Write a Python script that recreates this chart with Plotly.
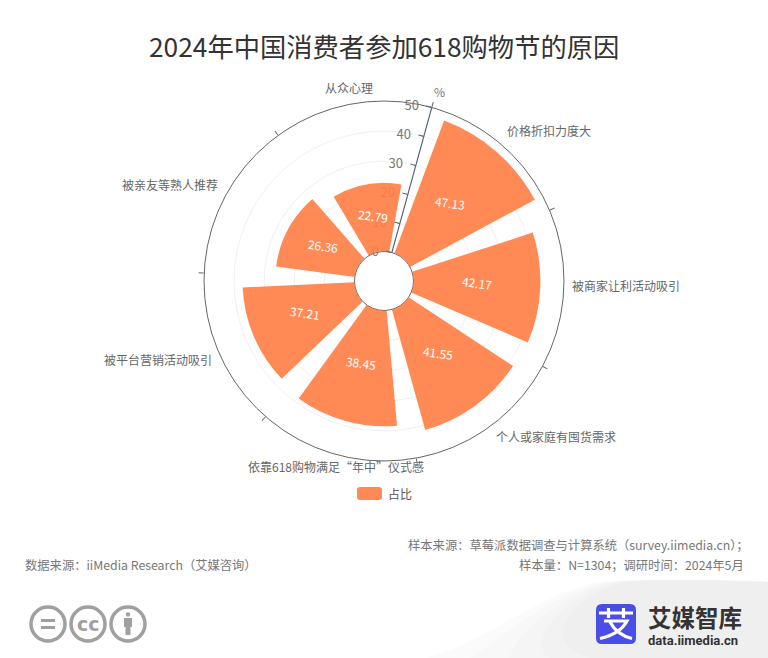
import math
import plotly.graph_objects as go

W, H = 768, 658
categories = ["价格折扣力度大", "被商家让利活动吸引", "个人或家庭有囤货需求",
              "依靠618购物满足“年中”仪式感", "被平台营销活动吸引", "被亲友等熟人推荐", "从众心理"]
values = [47.13, 42.17, 41.55, 38.45, 37.21, 26.36, 22.79]
radial_ticks = [0, 10, 20, 30, 40, 50]
series_name = "占比"
title = "2024年中国消费者参加618购物节的原因"

FONT = "Noto Sans CJK SC"
ORANGE = "#FF7D42"
CX, CY, R, HOLE = 384, 281, 180, 29.5
AXIS_DEG = 15.4          # clockwise from north
STEP = 360 / len(categories)
# page positions of the category labels (plotly's own anchoring differs from the reference)
LABEL_XY = [(549, 130), (625.5, 285.5), (556, 436), (335.5, 466), (157.5, 359.5), (169.5, 184.5), (348.5, 87.5)]


def px(x):
    return x / W


def py(y):
    return 1 - y / H


def text(x, y, s, size=12.0, color="#777777", anchor="left", angle=0, family=FONT):
    return dict(x=px(x), y=py(y), xref="paper", yref="paper", text=s, showarrow=False,
                xanchor=anchor, yanchor="middle", textangle=angle,
                font=dict(family=family, size=size, color=color))


def pshape(path, fill=None, line=None, lw=0, opacity=1, layer="above"):
    return dict(type="path", xref="paper", yref="paper", path=path, fillcolor=fill,
                line=dict(color=line, width=lw), opacity=opacity, layer=layer)


def P(points):
    """Build a paper-coordinate path from pixel commands."""
    out = []
    for item in points:
        if isinstance(item, str):
            out.append(item)
        else:
            out.append(f"{px(item[0]):.5f},{py(item[1]):.5f}")
    return " ".join(out)


def round_rect(x0, y0, x1, y1, r):
    return P(["M", (x0 + r, y0), "L", (x1 - r, y0), "Q", (x1, y0), (x1, y0 + r),
              "L", (x1, y1 - r), "Q", (x1, y1), (x1 - r, y1), "L", (x0 + r, y1),
              "Q", (x0, y1), (x0, y1 - r), "L", (x0, y0 + r), "Q", (x0, y0), (x0 + r, y0), "Z"])


def circle(cx, cy, r, line, lw, fill=None):
    return dict(type="circle", xref="paper", yref="paper",
                x0=px(cx - r), x1=px(cx + r), y0=py(cy + r), y1=py(cy - r),
                line=dict(color=line, width=lw), fillcolor=fill)


fig = go.Figure()
fig.add_trace(go.Barpolar(r=values, theta=categories, width=0.8, name=series_name,
                          marker=dict(color=ORANGE, line=dict(width=0), opacity=0.9),
                          subplot="polar", showlegend=False))
# second overlay only carries the tick marks (sector boundaries and radial ticks)
fig.add_trace(go.Scatterpolar(r=values, theta=categories, mode="none", subplot="polar2",
                              showlegend=False, hoverinfo="skip"))

domain = dict(x=[px(CX - R), px(CX + R)], y=[py(CY + R), py(CY - R)])
fig.update_layout(
    width=W, height=H, autosize=False, margin=dict(l=0, r=0, t=0, b=0),
    paper_bgcolor="white", font=dict(family=FONT, color="#666666", size=12),
    showlegend=False,
    polar=dict(
        domain=domain, hole=HOLE / R, bgcolor="rgba(0,0,0,0)",
        radialaxis=dict(range=[0, 50], tickvals=radial_ticks, angle=90 - AXIS_DEG,
                        tickangle=90 - AXIS_DEG,
                        side="counterclockwise", ticks="outside", ticklen=1, tickcolor="#5A6478",
                        linecolor="#5A6478", linewidth=1.2, gridcolor="#F0F0F0", gridwidth=1,
                        tickfont=dict(size=13, color="#777777", family=FONT), layer="below traces"),
        angularaxis=dict(type="category", categoryorder="array", categoryarray=categories,
                         direction="clockwise", rotation=90 - AXIS_DEG - STEP / 2,
                         ticks="", showticklabels=False,
                         linecolor="#666666", linewidth=1, showgrid=False, layer="below traces"),
    ),
    polar2=dict(
        domain=domain, hole=HOLE / R, bgcolor="rgba(0,0,0,0)",
        radialaxis=dict(range=[0, 50], tickvals=radial_ticks, angle=90 - AXIS_DEG,
                        side="counterclockwise", ticks="outside", ticklen=5, tickcolor="#5A6478",
                        showticklabels=False, showline=False, showgrid=False),
        angularaxis=dict(type="category", categoryorder="array", categoryarray=categories,
                         direction="clockwise", rotation=90 - AXIS_DEG,
                         ticks="outside", ticklen=5, tickcolor="#666666", showticklabels=False,
                         showline=False, showgrid=False),
    ),
)

annotations = [
    text(384, 45.5, title, size=26.3, color="#333333", anchor="center"),
    text(439, 91, "%", size=12, color="#777777", anchor="center"),
    text(385.5, 493, series_name, size=12, color="#555555"),
    text(405.5, 544.5, "样本来源：草莓派数据调查与计算系统（survey.iimedia.cn）；", size=12.3),
    text(516.5, 564.5, "样本量：N=1304；调研时间：2024年5月", size=12.3),
    text(22.5, 564.5, "数据来源：iiMedia Research（艾媒咨询）", size=12.3),
    text(88, 623.5, "<b>cc</b>", size=19, color="#A0A0A0", anchor="center", family="DejaVu Sans"),
    text(645.5, 617, "<b>艾媒智库</b>", size=23.5, color="#333333"),
    text(645.5, 640.5, "<b>data.iimedia.cn</b>", size=13, color="#333333", family="Roboto"),
]
for name, (lx, ly) in zip(categories, LABEL_XY):
    annotations.append(text(lx, ly, name, size=12, color="#666666", anchor="center"))
# value labels sit at half of each bar, along the sector's centre line
for i, v in enumerate(values):
    ang = math.radians(AXIS_DEG + STEP * (i + 0.5))
    rr = HOLE + (v / 2) * (R - HOLE) / 50
    annotations.append(text(CX + rr * math.sin(ang), CY - rr * math.cos(ang) - 2.5, f"{v:.2f}",
                            size=12, color="white", anchor="center", angle=8))

swoosh = []
for start, shade in [(427, "#FBFBFB"), (470, "#F8F8F8"), (510, "#F5F5F5"), (550, "#F2F2F2"), (590, "#EFEFEF")]:
    bend = (start - 427) * 0.25
    swoosh.append(pshape(P(["M", (start, 658),
                            "C", (490 + bend, 640), (540 + bend, 592), (600 + bend * 0.6, 582),
                            "C", (650, 579), (710, 580), (768, 582), "L", (768, 658), "Z"]),
                         fill=shade, layer="below"))

shapes = swoosh + [
    # legend swatch
    pshape(round_rect(357, 487, 382, 500, 3), fill="#FF8A55"),
    # licence icons
    circle(48, 624, 17, "#A0A0A0", 3.5), circle(88, 624, 17, "#A0A0A0", 3.5), circle(128, 624, 17, "#A0A0A0", 3.5),
    pshape(P(["M", (41, 620.5), "L", (55, 620.5), "M", (41, 627.5), "L", (55, 627.5)]), line="#A0A0A0", lw=3),
    circle(128, 614.5, 2.2, "#A0A0A0", 0, "#A0A0A0"),
    pshape(P(["M", (124, 618), "L", (132, 618), "L", (132, 627), "L", (130.5, 627), "L", (130.5, 635),
              "L", (125.5, 635), "L", (125.5, 627), "L", (124, 627), "Z"]), fill="#A0A0A0"),
    # logo tile and glyph
    pshape(round_rect(596, 604, 636, 644, 6), fill="#4B4EE6"),
    pshape(P(["M", (599, 613), "L", (633, 613), "M", (608.5, 608), "L", (608.5, 618),
              "M", (623.5, 608), "L", (623.5, 618),
              "M", (604, 621), "L", (627, 621), "Q", (620, 634), (600, 638.5),
              "M", (610, 622), "Q", (617, 635), (632, 638.5)]), line="white", lw=3.2),
]
fig.update_layout(annotations=annotations, shapes=shapes)
fig.write_html("out.html", post_script="document.body.style.margin='0';",
               config=dict(displayModeBar=False))
